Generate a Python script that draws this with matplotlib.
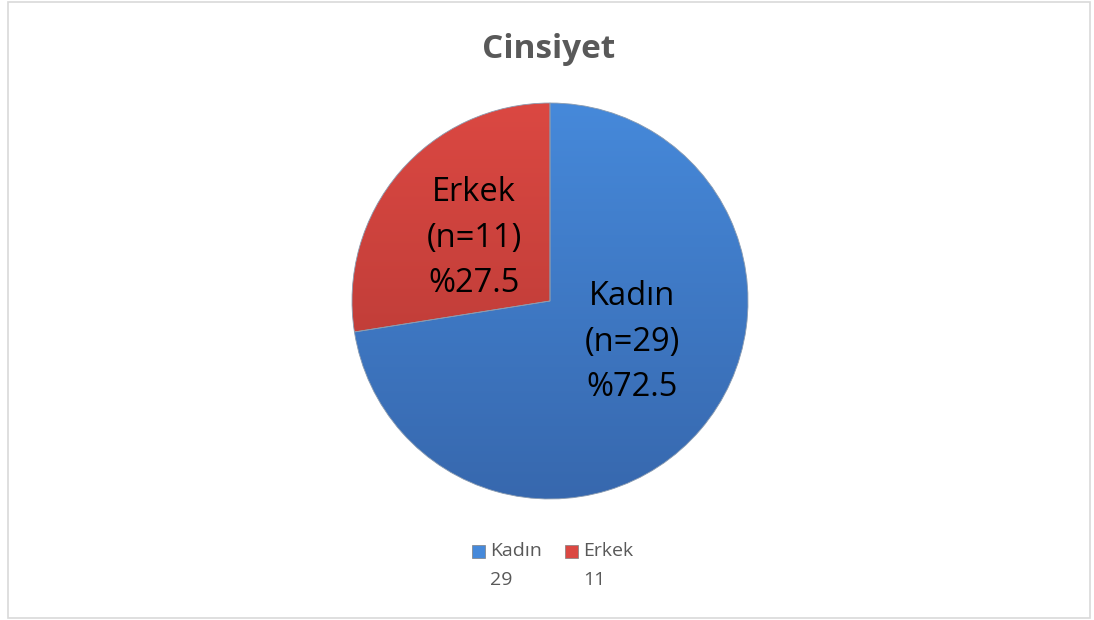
import numpy as np
import matplotlib.pyplot as plt
from matplotlib.colors import LinearSegmentedColormap
from matplotlib.patches import Rectangle

# data
categories = ['Kadın', 'Erkek']
counts = [29, 11]
percents = [72.5, 27.5]
colors_top = ['#4689DA', '#DB4842']
colors_bottom = ['#3768AE', '#B03733']

W, H = 1094, 620
fig = plt.figure(figsize=(W / 100, H / 100), dpi=100)
ax = fig.add_axes([0, 0, 1, 1])
ax.set_xlim(0, W)
ax.set_ylim(0, H)
ax.axis('off')

# outer chart border
fig.patches.append(Rectangle((8 / W, 2 / H), 1082 / W, 616 / H, transform=fig.transFigure,
                             fill=False, edgecolor='#D9D9D9', linewidth=1.2))

cx, cy, r = 550, H - 301, 198
wedges, _ = ax.pie(counts, startangle=90, counterclock=False, center=(cx, cy), radius=r,
                   colors=colors_top, wedgeprops=dict(edgecolor='#8a9bb0', linewidth=0.6))
ax.set_xlim(0, W)
ax.set_ylim(0, H)
ax.set_aspect('equal')

# vertical gradient in each wedge
for w, ctop, cbot in zip(wedges, colors_top, colors_bottom):
    cmap = LinearSegmentedColormap.from_list('g', [cbot, ctop])
    grad = np.linspace(0, 1, 256).reshape(-1, 1)
    im = ax.imshow(grad, cmap=cmap, origin='lower', aspect='auto',
                   extent=(cx - r, cx + r, cy - r, cy + r), zorder=w.get_zorder() + 0.1)
    im.set_clip_path(w)
    w.set_facecolor('none')
    w.set_zorder(w.get_zorder() + 0.2)

font = ['Open Sans', 'DejaVu Sans']
label_pos = [(632, 342), (474, 238)]
for cat, n, p, (lx, ly) in zip(categories, counts, percents, label_pos):
    ax.text(lx, H - ly, f'{cat}\n(n={n})\n%{p}', ha='center', va='center',
            fontsize=23.5, family=font, color='black', linespacing=1.5, zorder=10)

ax.text(549, H - 49, 'Cinsiyet', ha='center', va='center', fontsize=24,
        fontweight='bold', family=font, color='#595959')

# legend
leg_x = [472, 565]
for cat, n, ctop, x in zip(categories, counts, colors_top, leg_x):
    ax.add_patch(Rectangle((x, H - 558), 13, 13, facecolor=ctop, edgecolor='#7f7f7f', linewidth=0.5))
    ax.text(x + 18, H - 551, cat, ha='left', va='center', fontsize=14, family=font, color='#595959')
    ax.text(x + 18, H - 580, str(n), ha='left', va='center', fontsize=14, family=font, color='#595959')

fig.savefig('out.png', dpi=100)
